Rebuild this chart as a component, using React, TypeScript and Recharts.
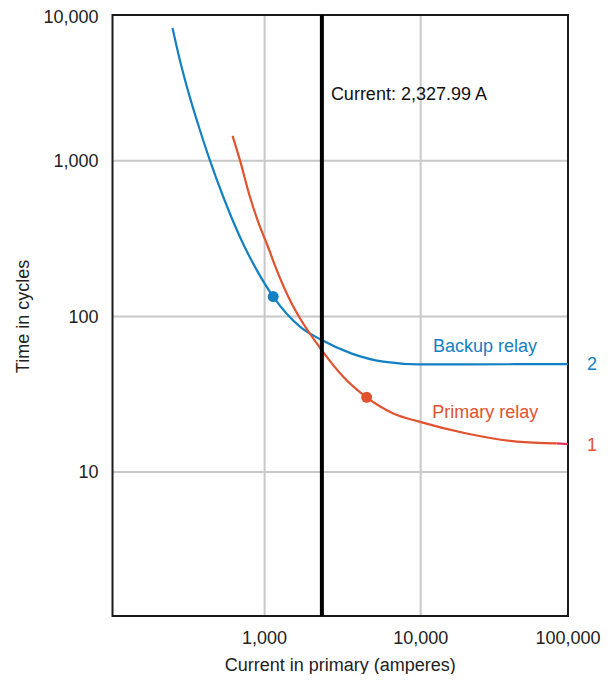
import React from 'react';
import {
  LineChart,
  Line,
  XAxis,
  YAxis,
  CartesianGrid,
  ReferenceLine,
  ReferenceArea,
  ReferenceDot,
} from 'recharts';

// ---- data ----
const backupCurrent = [257, 286, 331, 384, 445, 543, 694, 889, 1135, 1684, 2320, 3585, 5760, 9900, 19700, 40000, 87900];
const backupTime = [7110, 4450, 2580, 1587, 1012, 587, 325, 199, 134, 85.9, 70.5, 57.9, 51.2, 49.2, 49.2, 49.3, 49.4];

const primaryCurrent = [623, 694, 805, 933, 1030, 1194, 1490, 1684, 2320, 3190, 4507, 6675, 9900, 19700, 41300, 74400];
const primaryTime = [1443, 1012, 587, 377, 295, 199, 121, 97.3, 60.8, 41.0, 30.2, 23.8, 21.0, 17.7, 15.7, 15.3];

const primaryTailCurrent = [74400, 87900];
const primaryTailTime = [15.3, 15.1];

const markerCurrent = [1135, 4507];
const markerTime = [134, 30.2];

const relayCurrentValue = 2327.99;
const relayCurrentText = 'Current: 2,327.99 A';

const seriesNames = ['Backup relay', 'Primary relay'];
const seriesNumbers = ['2', '1'];
const seriesLabelCurrent = [11990, 11870];
const seriesLabelTime = [59, 22.1];

const xTicks = [1000, 10000, 100000];
const yTicks = [10, 100, 1000, 10000];
const xGrid = [1000, 10000];
const yGrid = [10, 100, 1000];
const xDomain = [106, 87900];
const yDomain = [1.19, 8630];

const xTitle = 'Current in primary (amperes)';
const yTitle = 'Time in cycles';

// ---- styles ----
const BLUE = '#1380c3';
const RED = '#e2522e';
const TAIL = '#e0345a';
const FONT = '"Liberation Sans", Arial, sans-serif';
const FS = 18;

const W = 610;
const H = 682;
const PLOT_LEFT = 112.5;
const PLOT_RIGHT = 568;
const PLOT_TOP = 15;
const PLOT_BOTTOM = 616;

const backupData = backupCurrent.map((c, i) => ({ current: c, time: backupTime[i] }));
const primaryData = primaryCurrent.map((c, i) => ({ current: c, time: primaryTime[i] }));
const tailData = primaryTailCurrent.map((c, i) => ({ current: c, time: primaryTailTime[i] }));

const fmt = (v: number) => v.toLocaleString('en-US');

const XTick = (props: any) => {
  const { x, payload } = props;
  return (
    <text
      x={Math.min(x, PLOT_RIGHT)}
      y={PLOT_BOTTOM + 22}
      dy="0.35em"
      textAnchor="middle"
      fontFamily={FONT}
      fontSize={FS}
      fill="#222"
    >
      {fmt(payload.value)}
    </text>
  );
};

const YTick = (props: any) => {
  const { y, payload } = props;
  return (
    <text
      x={PLOT_LEFT - 14}
      y={Math.max(y, PLOT_TOP + 1.5)}
      dy="0.35em"
      textAnchor="end"
      fontFamily={FONT}
      fontSize={FS}
      fill="#222"
    >
      {fmt(payload.value)}
    </text>
  );
};

const endLabel = (count: number, text: string, color: string) => (props: any) => {
  const { x, y, index } = props;
  if (index !== count - 1) return null;
  return (
    <text x={x + 24} y={y} dy="0.35em" textAnchor="middle" fontFamily={FONT} fontSize={FS} fill={color}>
      {text}
    </text>
  );
};

const textAt = (text: string, color: string) => (props: any) => {
  const vb = props.viewBox || {};
  return (
    <text x={vb.x} y={vb.y} textAnchor="start" fontFamily={FONT} fontSize={FS} fill={color}>
      {text}
    </text>
  );
};

export default function App() {
  const colors = [BLUE, RED];
  return (
    <div style={{ margin: -8, width: W, height: H }}>
      <LineChart
        width={W}
        height={H}
        margin={{ top: PLOT_TOP, right: W - PLOT_RIGHT, bottom: 0, left: 0 }}
        style={{ fontFamily: FONT }}
      >
        <CartesianGrid
          horizontalValues={yGrid}
          verticalValues={xGrid}
          stroke="#c8c8c8"
          strokeWidth={2}
        />
        <XAxis
          dataKey="current"
          type="number"
          scale="log"
          domain={xDomain}
          allowDataOverflow
          ticks={xTicks}
          interval={0}
          tick={<XTick />}
          tickLine={false}
          axisLine={false}
          height={H - PLOT_BOTTOM}
          label={(p: any) => (
            <text
              x={(PLOT_LEFT + PLOT_RIGHT) / 2}
              y={PLOT_BOTTOM + 49}
              dy="0.35em"
              textAnchor="middle"
              fontFamily={FONT}
              fontSize={FS}
              fill="#222"
            >
              {xTitle}
            </text>
          )}
        />
        <YAxis
          dataKey="time"
          type="number"
          scale="log"
          domain={yDomain}
          allowDataOverflow
          ticks={yTicks}
          interval={0}
          tick={<YTick />}
          tickLine={false}
          axisLine={false}
          width={PLOT_LEFT}
          label={(p: any) => {
            const cx = 28.5;
            const cy = (PLOT_TOP + PLOT_BOTTOM) / 2 + 1;
            return (
              <text
                x={cx}
                y={cy}
                textAnchor="middle"
                transform={`rotate(-90 ${cx} ${cy})`}
                fontFamily={FONT}
                fontSize={FS}
                fill="#222"
              >
                {yTitle}
              </text>
            );
          }}
        />
        <Line
          data={backupData}
          dataKey="time"
          type="monotone"
          stroke={BLUE}
          strokeWidth={2.2}
          dot={false}
          isAnimationActive={false}
          label={endLabel(backupData.length, seriesNumbers[0], BLUE)}
        />
        <Line
          data={primaryData}
          dataKey="time"
          type="monotone"
          stroke={RED}
          strokeWidth={2.2}
          dot={false}
          isAnimationActive={false}
        />
        <Line
          data={tailData}
          dataKey="time"
          type="linear"
          stroke={TAIL}
          strokeWidth={2.2}
          dot={false}
          isAnimationActive={false}
          label={endLabel(tailData.length, seriesNumbers[1], RED)}
        />
        {markerCurrent.map((c, i) => (
          <ReferenceDot
            key={'m' + i}
            x={c}
            y={markerTime[i]}
            r={5.5}
            fill={colors[i]}
            stroke="none"
          />
        ))}
        {seriesNames.map((n, i) => (
          <ReferenceDot
            key={'n' + i}
            x={seriesLabelCurrent[i]}
            y={seriesLabelTime[i]}
            r={0}
            fill="none"
            stroke="none"
            label={textAt(n, colors[i])}
          />
        ))}
        <ReferenceLine
          x={relayCurrentValue}
          stroke="#000"
          strokeWidth={4}
          label={(p: any) => (
            <text
              x={(p.viewBox?.x ?? 0) + 9}
              y={PLOT_TOP + 78.5}
              dy="0.35em"
              textAnchor="start"
              fontFamily={FONT}
              fontSize={FS}
              fill="#111"
            >
              {relayCurrentText}
            </text>
          )}
        />
        <ReferenceArea
          x1={xDomain[0]}
          x2={xDomain[1]}
          y1={yDomain[0]}
          y2={yDomain[1]}
          fill="none"
          fillOpacity={0}
          stroke="#1a1a1a"
          strokeWidth={2}
          strokeOpacity={1}
          ifOverflow="visible"
        />
      </LineChart>
    </div>
  );
}
